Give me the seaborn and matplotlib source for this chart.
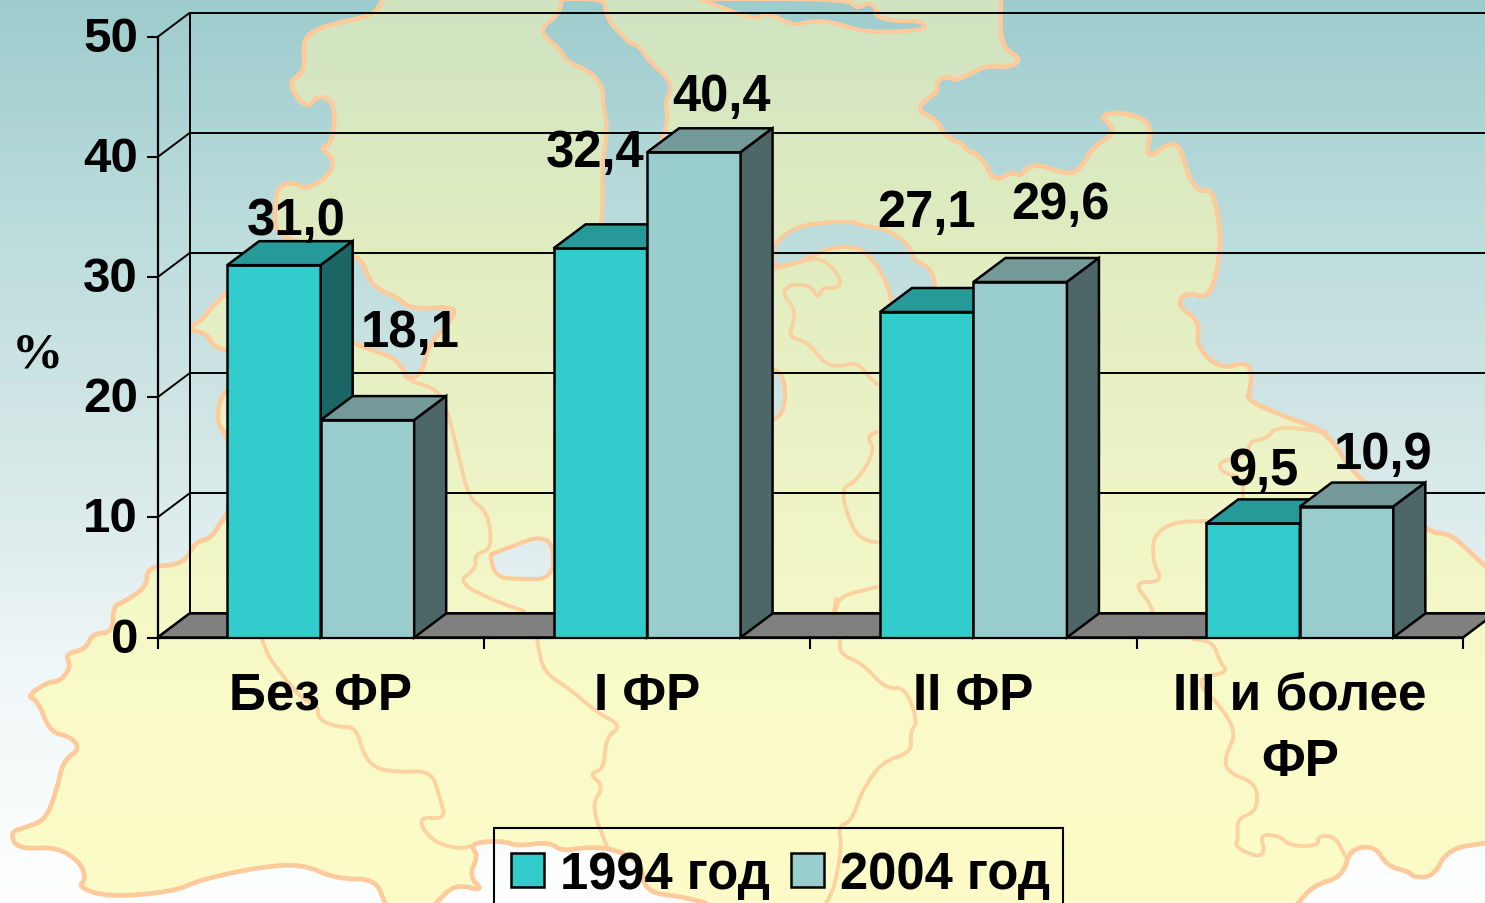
import numpy as np
import pandas as pd
import seaborn as sns
import matplotlib.pyplot as plt
from matplotlib.colors import LinearSegmentedColormap
from matplotlib.patches import Polygon, Rectangle
from matplotlib.transforms import ScaledTranslation

# chart data
categories = ['Без ФР', 'I ФР', 'II ФР', 'III и более\nФР']
years = ['1994 год', '2004 год']
values_1994 = [31.0, 32.4, 27.1, 9.5]
values_2004 = [18.1, 40.4, 29.6, 10.9]
y_ticks = [0, 10, 20, 30, 40, 50]

# hand placed value labels, pixels from the bar top centre
label_shift_1994 = [(22, 31), (-5, 82), (0, 86), (10, 39)]
label_shift_2004 = [(43, 74), (28, 42), (40, 64), (36, 39)]

# background map, traced in picture pixels (decoration only)
land_west = [(383, 0), (377, 12), (365, 18), (333, 25), (312, 32), (303, 43), (305, 73), (288, 83), (300, 103),
             (310, 107), (317, 97), (330, 100), (335, 113), (333, 137), (328, 147), (322, 148), (325, 153),
             (333, 160), (332, 172), (320, 183), (305, 190), (292, 183), (278, 188), (275, 207), (275, 233),
             (300, 245), (353, 257), (363, 263), (370, 283), (383, 293), (397, 298), (410, 310), (453, 308),
             (455, 315), (437, 337), (427, 350), (423, 373), (407, 382), (402, 367), (390, 357), (363, 348),
             (352, 343), (290, 370), (227, 392), (222, 397), (218, 410), (218, 425), (227, 437), (240, 480),
             (227, 515), (222, 522), (210, 540), (195, 543), (184, 565), (147, 568), (147, 587), (126, 602),
             (113, 607), (113, 633), (92, 635), (86, 650), (65, 655), (71, 667), (61, 682), (48, 683), (27, 697),
             (38, 702), (50, 733), (71, 738), (80, 750), (63, 762), (57, 790), (46, 820), (27, 828), (10, 833),
             (17, 850), (57, 848), (80, 863), (86, 880), (78, 888), (107, 898), (172, 893), (203, 880), (260, 868),
             (302, 865), (337, 880), (375, 880), (385, 904)]
land_south = [(436, 904), (455, 885), (484, 892), (469, 877), (478, 857), (471, 847), (480, 843), (503, 842),
              (518, 847), (549, 843), (562, 852), (587, 848), (614, 850), (641, 863), (645, 893), (683, 898),
              (706, 904)]
land_se = [(1298, 904), (1313, 887), (1343, 877), (1350, 850), (1375, 847), (1387, 867), (1410, 873), (1413, 878),
           (1433, 878), (1448, 850), (1485, 844)]
land_east = [(1485, 567), (1467, 550), (1450, 535), (1427, 533), (1357, 480), (1327, 433), (1297, 422), (1247, 402),
             (1250, 390), (1252, 373), (1245, 363), (1220, 370), (1196, 347), (1200, 322), (1177, 307), (1185, 293),
             (1210, 300), (1220, 257), (1220, 227), (1212, 190), (1200, 193), (1189, 180), (1179, 143), (1162, 148),
             (1152, 157), (1146, 153), (1152, 130), (1142, 118), (1115, 113), (1100, 117), (1113, 128), (1111, 137),
             (1094, 147), (1079, 172), (1065, 175), (1038, 165), (1025, 170), (1021, 177), (1011, 173), (994, 183),
             (982, 158), (965, 150), (963, 145), (946, 138), (936, 120), (919, 113), (922, 103), (938, 93), (936, 82),
             (949, 77), (955, 82), (976, 72), (986, 67), (1011, 68), (1021, 60), (1005, 50), (1000, 33), (1001, 0)]
island = [(227, 293), (210, 310), (203, 320), (188, 330), (207, 335), (213, 347), (227, 352), (260, 352), (260, 293)]
water_shapes = [
    [(700, 0), (733, 13), (757, 20), (767, 13), (793, 27), (810, 22), (833, 23), (860, 32), (893, 33), (927, 30),
     (922, 22), (893, 22), (875, 17), (877, 10), (868, 3), (858, 10), (847, 0)],
    [(563, 0), (557, 17), (542, 28), (545, 38), (560, 50), (567, 63), (590, 72), (603, 88), (603, 107), (608, 128),
     (602, 167), (603, 200), (600, 240), (650, 240), (650, 170), (663, 137), (668, 120), (665, 103), (672, 90),
     (667, 78), (650, 63), (640, 48), (628, 43), (622, 35), (613, 28), (605, 13), (605, 0)],
    [(773, 248), (787, 233), (807, 225), (850, 222), (863, 227), (887, 230), (910, 247), (913, 260), (932, 270),
     (937, 295), (893, 313), (890, 293), (880, 270), (863, 250), (840, 247), (820, 253), (800, 263), (773, 270)],
    [(740, 368), (773, 368), (785, 380), (785, 410), (773, 423), (740, 430)],
    [(492, 555), (490, 557), (496, 578), (517, 580), (553, 580), (553, 543), (536, 538), (513, 547)],
]
rivers = [
    [(773, 270), (800, 263), (823, 258), (843, 282), (835, 290), (823, 288), (817, 300), (812, 287), (790, 285),
     (782, 295), (793, 307), (795, 320), (788, 338), (808, 343), (823, 363), (837, 368), (857, 363), (868, 377),
     (877, 385)],
    [(877, 433), (867, 437), (875, 452), (857, 482), (840, 490), (853, 532), (867, 542), (877, 543)],
    [(835, 613), (840, 597), (877, 588)],
    [(413, 383), (437, 390), (447, 410), (457, 450), (469, 500), (488, 513), (492, 550), (475, 555), (476, 570),
     (457, 583), (497, 603), (524, 612)],
    [(262, 640), (268, 657), (283, 677), (302, 700), (318, 707), (318, 720), (337, 728), (356, 728), (364, 757),
     (377, 770), (398, 773), (432, 772), (440, 800), (446, 820), (417, 818), (431, 842), (459, 850), (471, 847)],
    [(537, 640), (543, 673), (570, 690), (595, 712), (622, 727), (606, 738), (604, 770), (589, 775), (604, 787),
     (591, 807), (608, 850)],
    [(836, 600), (834, 613)],
    [(840, 640), (840, 655), (863, 665), (886, 690), (905, 688), (918, 723), (910, 733), (912, 753), (882, 763),
     (863, 790), (851, 823), (838, 827), (842, 847), (834, 890), (826, 904)],
    [(1207, 522), (1173, 523), (1153, 537), (1153, 563), (1163, 583), (1133, 583), (1152, 607), (1153, 620)],
    [(1193, 640), (1213, 643), (1220, 663), (1228, 673), (1203, 678), (1200, 687), (1217, 703), (1237, 733),
     (1225, 757), (1227, 773), (1253, 783), (1258, 797), (1255, 813), (1237, 820), (1238, 840), (1235, 848),
     (1257, 858), (1265, 853), (1260, 835), (1280, 837), (1290, 847), (1318, 847), (1318, 837), (1335, 837),
     (1345, 857)],
    [(1327, 433), (1277, 427), (1266, 440), (1250, 442), (1247, 457), (1220, 462), (1220, 472), (1243, 480),
     (1243, 500)],
]

sea_cmap = LinearSegmentedColormap.from_list('sea', ['#9ecccd', '#bcdcdc', '#d5e7e7', '#f0f7f8', '#ffffff'])
land_cmap = LinearSegmentedColormap.from_list('land', ['#d0e4c2', '#dfecc0', '#ecf3c6', '#f8fac8', '#fdfcc8'])
border = '#fdcb9b'


def soften(points, rounds=2):
    # corner cutting so the traced borders do not look like straight segments
    pts = np.array(points, dtype=float)
    for _ in range(rounds):
        first = 0.75 * pts[:-1] + 0.25 * pts[1:]
        second = 0.25 * pts[:-1] + 0.75 * pts[1:]
        mid = np.empty((first.shape[0] * 2, 2))
        mid[0::2] = first
        mid[1::2] = second
        pts = np.vstack([pts[0], mid, pts[-1]])
    return pts


sns.set_theme(style='white')
plt.rcParams['font.family'] = ['Liberation Sans', 'DejaVu Sans']
plt.rcParams['font.weight'] = 'bold'
tick_size = 35.5
label_size = 36.5
cat_size = 37

fig = plt.figure(figsize=(14.85, 9.04), dpi=100)

# background
bg = fig.add_axes([0, 0, 1, 1], zorder=0)
bg.set_axis_off()
ramp = np.linspace(0, 1, 256).reshape(-1, 1)
extent = (0, 1485, 904, 0)
bg.imshow(ramp, cmap=sea_cmap, aspect='auto', extent=extent, zorder=0)
west, south, se, east = [soften(p) for p in (land_west, land_south, land_se, land_east)]
land_img = bg.imshow(ramp, cmap=land_cmap, aspect='auto', extent=extent, zorder=1)
land_img.set_clip_path(Polygon(np.vstack([west, south, se, east]), transform=bg.transData))
island_img = bg.imshow(ramp, cmap=land_cmap, aspect='auto', extent=extent, zorder=1)
island_img.set_clip_path(Polygon(soften(island), transform=bg.transData))
for shape in water_shapes:
    outline = soften(shape + shape[:1])
    water_img = bg.imshow(ramp, cmap=sea_cmap, aspect='auto', extent=extent, zorder=2)
    water_img.set_clip_path(Polygon(outline, transform=bg.transData))
    bg.plot(outline[:, 0], outline[:, 1], color=border, lw=3, solid_joinstyle='round', zorder=3)
for line in [west, south, se, east, soften(island)]:
    bg.plot(line[:, 0], line[:, 1], color=border, lw=3.4, solid_joinstyle='round', zorder=3)
for line in rivers:
    river = soften(line)
    bg.plot(river[:, 0], river[:, 1], color=border, lw=2.8, alpha=0.85, solid_joinstyle='round', zorder=3)
bg.set_xlim(0, 1485)
bg.set_ylim(904, 0)

# front plane of the chart: 157..1463 px wide, y=0 at 637 px, y=50 at 37 px
ax = fig.add_axes([157.5 / 1485, 1 - 638.5 / 904, 1305.5 / 1485, 600.5 / 904], zorder=1)
ax.patch.set_visible(False)

df = pd.DataFrame({
    'group': categories * 2,
    'year': [years[0]] * 4 + [years[1]] * 4,
    'value': values_1994 + values_2004,
})
sns.barplot(data=df, x='group', y='value', hue='year', palette=['#33cccc', '#99cccc'], saturation=1,
            width=0.573, gap=0, edgecolor='black', linewidth=1.8, ax=ax)
ax.set_xlim(-0.5, 3.5)
ax.set_ylim(0, 50)

# 3d depth in data units (32 px right, 24 px up)
dx = 32 / (1305.5 / 4)
dy = 24 / 12
edge = dict(edgecolor='black', linewidth=1.8, clip_on=False, joinstyle='miter')

ax.add_patch(Polygon([(-0.5, 0), (-0.5 + dx, dy), (3.5 + dx, dy), (3.5, 0)], facecolor='#808080', zorder=1.2, **edge))
for v in y_ticks:
    ax.plot([-0.5, -0.5 + dx], [v, v + dy], color='black', lw=1.4, clip_on=False, zorder=1.1)
    ax.plot([-0.5 + dx, 3.5 + dx], [v + dy, v + dy], color='black', lw=1.4, clip_on=False, zorder=1.1)
ax.plot([-0.5 + dx, -0.5 + dx], [dy, 50 + dy], color='black', lw=1.4, clip_on=False, zorder=1.1)

# top and side faces of each bar, darker shades of the front colour
shades = {'#33cccc': ('#269999', '#1a6666'), '#99cccc': ('#739999', '#4d6666')}
bars = ax.containers
for level, (container, vals, shifts) in enumerate(zip(bars, [values_1994, values_2004],
                                                       [label_shift_1994, label_shift_2004])):
    front = ['#33cccc', '#99cccc'][level]
    top_col, side_col = shades[front]
    for bar, val, shift in zip(container, vals, shifts):
        bar.set_zorder(3 + level)
        x0, w, h = bar.get_x(), bar.get_width(), bar.get_height()
        ax.add_patch(Polygon([(x0, h), (x0 + dx, h + dy), (x0 + w + dx, h + dy), (x0 + w, h)],
                             facecolor=top_col, zorder=3 + level, **edge))
        ax.add_patch(Polygon([(x0 + w, 0), (x0 + w + dx, dy), (x0 + w + dx, h + dy), (x0 + w, h)],
                             facecolor=side_col, zorder=3 + level, **edge))
        ax.annotate(f'{val:.1f}'.replace('.', ','), (x0 + w / 2, h), xytext=shift, textcoords='offset pixels',
                    ha='center', va='baseline', fontsize=label_size, fontweight='bold', color='black', zorder=10,
                    annotation_clip=False)

# axes
sns.despine(ax=ax, top=True, right=True)
for side in ['left', 'bottom']:
    ax.spines[side].set_color('black')
    ax.spines[side].set_linewidth(1.6)
    ax.spines[side].set_zorder(6)
ax.set_yticks(y_ticks)
ax.set_yticklabels([str(v) for v in y_ticks], fontsize=tick_size, fontweight='bold', color='black')
ax.tick_params(axis='y', length=8, width=1.5, pad=6, color='black', left=True)
nudge = ScaledTranslation(0, 2.5 / 72, fig.dpi_scale_trans)
for lab in ax.get_yticklabels():
    lab.set_transform(lab.get_transform() + nudge)
ax.set_xticks([-0.5, 0.5, 1.5, 2.5, 3.5])
ax.set_xticklabels([])
ax.tick_params(axis='x', which='major', length=8, width=1.5, color='black', bottom=True)
ax.set_xticks([0, 1, 2, 3], minor=True)
ax.set_xticklabels(categories, minor=True, fontsize=cat_size, fontweight='bold', color='black', linespacing=1.45)
ax.tick_params(axis='x', which='minor', length=0, pad=24)
ax.set_xlabel('')
ax.set_ylabel('')

fig.text(37 / 1485, 1 - 355 / 904, '%', family='Liberation Serif', fontweight='bold', fontsize=37,
         ha='center', va='center', color='black')

handles, labels = ax.get_legend_handles_labels()
ax.legend(handles, labels, loc='upper left', bbox_to_anchor=(511 / 1485, 1 - 851 / 904),
          bbox_transform=fig.transFigure, ncol=2, frameon=False, fontsize=label_size, labelcolor='black',
          handlelength=0.65, handleheight=0.65, handletextpad=0.32, columnspacing=0.41, borderpad=0,
          borderaxespad=0)
fig.add_artist(Rectangle((494 / 1485, -20 / 904), 569 / 1485, (904 - 829 + 20) / 904, transform=fig.transFigure,
                         facecolor='none', edgecolor='black', linewidth=1.5, zorder=5))

fig.savefig('out.png', dpi=100)
